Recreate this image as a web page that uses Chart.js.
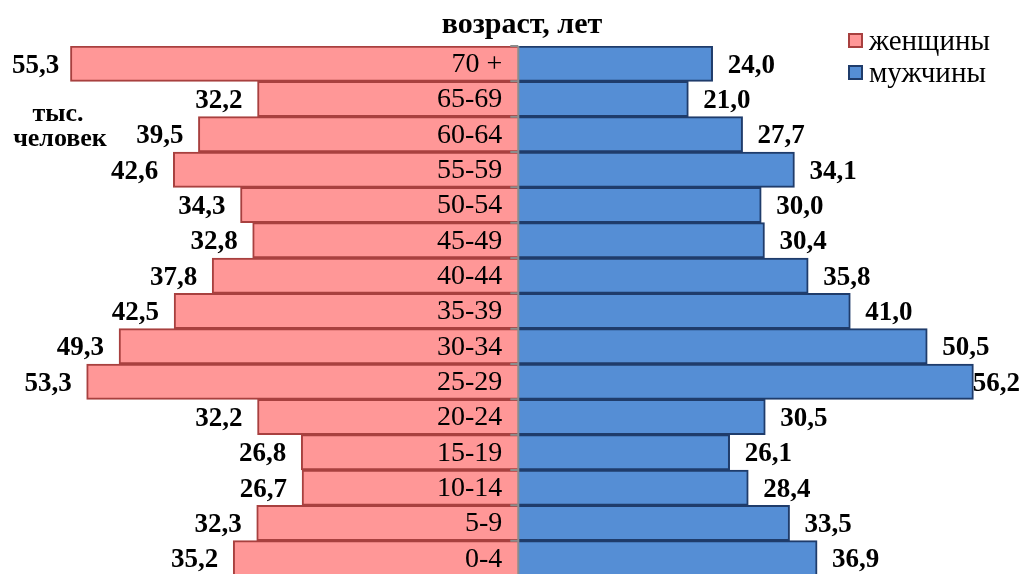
<!DOCTYPE html>
<html lang="ru">
<head>
<meta charset="utf-8">
<title>Половозрастная пирамида</title>
<script src="https://cdn.jsdelivr.net/npm/chart.js@4"></script>
<style>
    html, body { margin: 0; padding: 0; background: #fff; overflow: hidden; }
    #wrap { position: relative; width: 1022px; height: 576px; }
</style>
</head>
<body>
<div id="wrap"><canvas id="pyramid"></canvas></div>
<script>
// Age groups, top to bottom
const ageGroups = ['70 +', '65-69', '60-64', '55-59', '50-54', '45-49', '40-44', '35-39',
    '30-34', '25-29', '20-24', '15-19', '10-14', '5-9', '0-4'];

// Thousand people
const women = [55.3, 32.2, 39.5, 42.6, 34.3, 32.8, 37.8, 42.5, 49.3, 53.3, 32.2, 26.8, 26.7, 32.3, 35.2];
const men = [24.0, 21.0, 27.7, 34.1, 30.0, 30.4, 35.8, 41.0, 50.5, 56.2, 30.5, 26.1, 28.4, 33.5, 36.9];

const seriesNames = ['женщины', 'мужчины'];
const titleText = 'возраст, лет';
const unitLines = ['тыс.', 'человек'];

const pinkFill = '#FF9797';
const pinkBorder = '#A8403F';
const blueFill = '#558ED5';
const blueBorder = '#1F3C6B';
const serif = '"Liberation Serif", "Times New Roman", serif';

function fmt(v) {
    return v.toFixed(1).replace('.', ',');
}

// Draws axis line, age labels, values, title and legend
const pyramidLabels = {
    id: 'pyramidLabels',
    afterDatasetsDraw(chart) {
        const ctx = chart.ctx;
        const area = chart.chartArea;
        const xScale = chart.scales.x;
        const yScale = chart.scales.y;
        const x0 = xScale.getPixelForValue(0);
        const band = (area.bottom - area.top) / ageGroups.length;

        ctx.save();

        // central axis with small ticks
        ctx.strokeStyle = '#8C8C8C';
        ctx.lineWidth = 2;
        ctx.beginPath();
        ctx.moveTo(x0, area.top);
        ctx.lineTo(x0, area.bottom);
        for (let i = 0; i <= ageGroups.length; i++) {
            const y = area.top + i * band;
            ctx.moveTo(x0 - 8, y);
            ctx.lineTo(x0, y);
        }
        ctx.stroke();

        // age labels inside the women's bars
        ctx.fillStyle = '#000';
        ctx.font = '28px ' + serif;
        ctx.textAlign = 'right';
        ctx.textBaseline = 'middle';
        ageGroups.forEach((label, i) => {
            ctx.fillText(label, x0 - 16, yScale.getPixelForValue(i) + 1);
        });

        // value labels
        ctx.font = 'bold 27px ' + serif;
        const wMeta = chart.getDatasetMeta(0).data;
        const mMeta = chart.getDatasetMeta(1).data;
        women.forEach((v, i) => {
            const txt = fmt(v);
            const w = ctx.measureText(txt).width;
            const x = Math.max(wMeta[i].x - 15, w + 12);
            ctx.textAlign = 'right';
            ctx.fillText(txt, x, wMeta[i].y + 2);
        });
        men.forEach((v, i) => {
            const txt = fmt(v);
            const w = ctx.measureText(txt).width;
            const x = Math.min(mMeta[i].x + 15, chart.width - w - 2);
            ctx.textAlign = 'left';
            ctx.fillText(txt, x, mMeta[i].y + 2);
        });

        // title
        ctx.textAlign = 'center';
        ctx.textBaseline = 'alphabetic';
        ctx.font = 'bold 30px ' + serif;
        ctx.fillText(titleText, 522, 33);

        // unit note
        ctx.font = 'bold 26px ' + serif;
        ctx.fillText(unitLines[0], 58, 121);
        ctx.fillText(unitLines[1], 60, 146);

        // legend
        const fills = [pinkFill, blueFill];
        const borders = [pinkBorder, blueBorder];
        ctx.font = '29px ' + serif;
        ctx.textAlign = 'left';
        seriesNames.forEach((name, i) => {
            const top = 33 + i * 32;
            ctx.fillStyle = fills[i];
            ctx.fillRect(848, top, 15, 15);
            ctx.strokeStyle = borders[i];
            ctx.lineWidth = 2;
            ctx.strokeRect(849, top + 1, 13, 13);
            ctx.fillStyle = '#000';
            ctx.fillText(name, 869, top + 17);
        });

        ctx.restore();
    }
};

const ctx = document.getElementById('pyramid').getContext('2d');
new Chart(ctx, {
    type: 'bar',
    data: {
        labels: ageGroups,
        datasets: [{
            label: seriesNames[0],
            data: women.map(v => -v),
            backgroundColor: pinkFill,
            borderColor: pinkBorder,
            borderWidth: 2,
            barPercentage: 1,
            categoryPercentage: 1
        }, {
            label: seriesNames[1],
            data: men,
            backgroundColor: blueFill,
            borderColor: blueBorder,
            borderWidth: 2,
            barPercentage: 1,
            categoryPercentage: 1
        }]
    },
    options: {
        indexAxis: 'y',
        responsive: true,
        maintainAspectRatio: false,
        animation: false,
        layout: { padding: { top: 46, left: 0, right: 0, bottom: 0 } },
        scales: {
            x: { stacked: true, min: -64, max: 62.2, display: false },
            y: { stacked: true, display: false }
        },
        plugins: {
            legend: { display: false },
            tooltip: { enabled: false }
        }
    },
    plugins: [pyramidLabels]
});
</script>
</body>
</html>
